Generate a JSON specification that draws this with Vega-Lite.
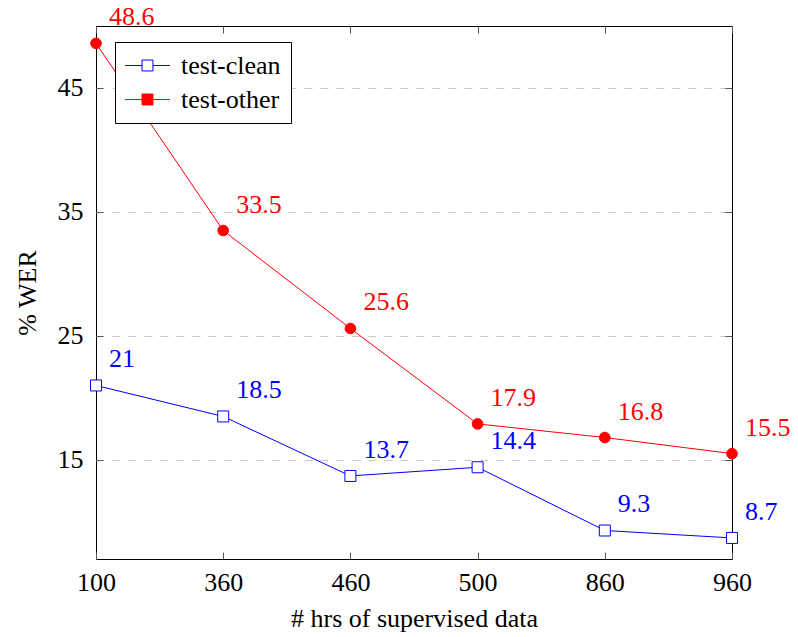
{
  "$schema": "https://vega.github.io/schema/vega-lite/v6.json",
  "width": 636,
  "height": 533,
  "autosize": {"type": "none"},
  "padding": {"left": 96, "top": 26, "right": 66, "bottom": 78},
  "config": {
    "font": "Liberation Serif",
    "view": {"stroke": "black", "strokeWidth": 1},
    "legend": {
      "title": null, "orient": "none", "legendX": 19, "legendY": 16,
      "fillColor": "white", "strokeColor": "black", "cornerRadius": 0,
      "padding": 10, "labelFontSize": 26, "labelColor": "black",
      "symbolSize": 676, "symbolStrokeWidth": 1, "rowPadding": 7, "labelOffset": 20,
      "symbolOffset": 9,
      "symbolType": "M-1.73,0H-0.42M0.42,0H1.73M-0.42,-0.42H0.42V0.42H-0.42Z"
    }
  },
  "data": {
    "values": [
      {"hrs": "100", "set": "test-clean", "wer": 21},
      {"hrs": "360", "set": "test-clean", "wer": 18.5},
      {"hrs": "460", "set": "test-clean", "wer": 13.7},
      {"hrs": "500", "set": "test-clean", "wer": 14.4},
      {"hrs": "860", "set": "test-clean", "wer": 9.3},
      {"hrs": "960", "set": "test-clean", "wer": 8.7},
      {"hrs": "100", "set": "test-other", "wer": 48.6},
      {"hrs": "360", "set": "test-other", "wer": 33.5},
      {"hrs": "460", "set": "test-other", "wer": 25.6},
      {"hrs": "500", "set": "test-other", "wer": 17.9},
      {"hrs": "860", "set": "test-other", "wer": 16.8},
      {"hrs": "960", "set": "test-other", "wer": 15.5}
    ]
  },
  "resolve": {"axis": {"x": "independent", "y": "independent"}},
  "layer": [
    {
      "mark": {"type": "line", "strokeWidth": 1},
      "encoding": {
        "x": {
          "field": "hrs", "type": "ordinal", "sort": null,
          "scale": {"type": "point", "padding": 0},
          "axis": {
            "orient": "bottom", "title": "# hrs of supervised data", "labelAngle": 0,
            "labelFontSize": 26, "labelColor": "black", "tickColor": "#555", "tickSize": -7,
            "labelPadding": 17, "titleFontSize": 26, "titleFontWeight": "normal",
            "titleColor": "black", "titlePadding": 10, "domain": false, "grid": false
          }
        },
        "y": {
          "field": "wer", "type": "quantitative",
          "scale": {"domain": [7, 50], "nice": false, "zero": false},
          "axis": {
            "orient": "left", "title": "% WER", "values": [15, 25, 35, 45],
            "grid": true, "gridDash": [8, 8], "gridColor": "#c8c8c8", "gridWidth": 1,
            "tickSize": -7, "tickColor": "#555", "labelPadding": 20,
            "labelFontSize": 26, "labelColor": "black", "titleFontSize": 26,
            "titleFontWeight": "normal", "titleColor": "black", "titlePadding": 17,
            "domain": false
          }
        },
        "color": {
          "field": "set", "type": "nominal",
          "scale": {"range": ["#0000ff", "#ff0000"]},
          "legend": null
        }
      }
    },
    {
      "transform": [{"filter": "datum.set === 'test-clean'"}],
      "mark": {"type": "point", "shape": "square", "filled": true, "size": 121, "strokeWidth": 1, "opacity": 1},
      "encoding": {
        "x": {
          "field": "hrs", "type": "ordinal", "sort": null,
          "axis": {"orient": "top", "labels": false, "title": null, "tickSize": -7, "tickColor": "#555", "domain": false, "grid": false}
        },
        "y": {
          "field": "wer", "type": "quantitative",
          "axis": {"orient": "right", "labels": false, "title": null, "values": [15, 25, 35, 45], "tickSize": -7, "tickColor": "#555", "domain": false, "grid": false}
        },
        "stroke": {
          "field": "set", "type": "nominal",
          "scale": {"domain": ["test-clean", "test-other"], "range": ["#0000ff", "#ff0000"]}
        },
        "fill": {
          "field": "set", "type": "nominal",
          "scale": {"domain": ["test-clean", "test-other"], "range": ["white", "#ff0000"]}
        }
      }
    },
    {
      "transform": [{"filter": "datum.set === 'test-other'"}],
      "mark": {"type": "point", "shape": "circle", "filled": true, "size": 113, "strokeWidth": 1, "opacity": 1},
      "encoding": {
        "x": {"field": "hrs", "type": "ordinal", "sort": null, "axis": null},
        "y": {"field": "wer", "type": "quantitative", "axis": null},
        "stroke": {"field": "set", "type": "nominal"},
        "fill": {"field": "set", "type": "nominal"}
      }
    },
    {
      "mark": {"type": "text", "align": "left", "baseline": "alphabetic", "dx": 13, "dy": -18, "fontSize": 26},
      "encoding": {
        "x": {"field": "hrs", "type": "ordinal", "sort": null, "axis": null},
        "y": {"field": "wer", "type": "quantitative", "axis": null},
        "text": {"field": "wer", "type": "quantitative"},
        "color": {"field": "set", "type": "nominal", "legend": null}
      }
    }
  ]
}
